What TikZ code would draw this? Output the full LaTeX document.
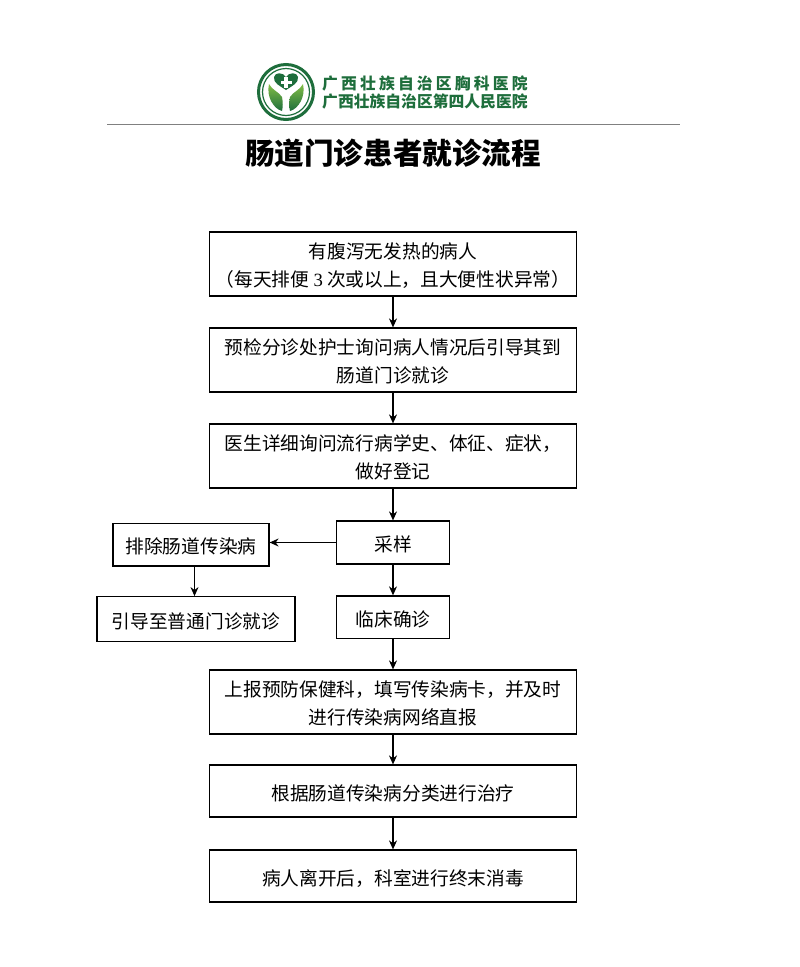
\documentclass[tikz,border=0pt]{standalone}
\usepackage{fontspec}
\setmainfont{Liberation Serif}
\newfontfamily\cjk{Noto Sans CJK SC}
\newfontfamily\cjkwide[LetterSpace=20]{Noto Sans CJK SC}
\usepackage{tikz}
\usetikzlibrary{arrows.meta}
\definecolor{logogreen}{RGB}{30,110,60}
\definecolor{leaflight}{RGB}{130,190,70}
\tikzset{
  flowbox/.style={draw,line width=1.2pt,anchor=center,font=\cjk\fontsize{18.7}{27.5}\selectfont,align=center,text height=21pt,text depth=3pt},
  flowtwo/.style={flowbox,minimum width=367,minimum height=64,text height=48pt,text depth=4pt},
  flowline/.style={line width=1.2pt,-{Stealth[length=9pt,width=8pt]}},
  hospname/.style={text=logogreen,anchor=west,inner sep=0pt},
}
\begin{document}
\begin{tikzpicture}[x=1pt,y=1pt,yscale=-1]
\useasboundingbox (0,0) rectangle (800,967);
\fill[white] (0,0) rectangle (800,967);
%logo
\begin{scope}[shift={(286,92)}]
\draw[logogreen,line width=3pt] (0,0) circle (27.5);
\draw[logogreen,line width=1.2pt] (0,0) circle (23.5);
\fill[logogreen] (0,-2) .. controls (-6,-6) and (-13,-9) .. (-12,-15) .. controls (-11,-20) and (-3,-20) .. (0,-15) .. controls (3,-20) and (11,-20) .. (12,-15) .. controls (13,-9) and (6,-6) .. (0,-2) -- cycle;
\fill[white] (-1.7,-15) rectangle (1.7,-4);
\fill[white] (-5.5,-11.2) rectangle (5.5,-7.8);
\shade[top color=leaflight,bottom color=logogreen] (-17,-8) .. controls (-14,-2) and (-7,0) .. (-4,5) .. controls (-3,10) and (-3,15) .. (-4,19) .. controls (-12,17) and (-20,5) .. (-17,-8) -- cycle;
\shade[top color=leaflight,bottom color=logogreen] (17,-8) .. controls (14,-2) and (7,0) .. (4,5) .. controls (3,10) and (3,15) .. (4,19) .. controls (12,17) and (20,5) .. (17,-8) -- cycle;
\end{scope}
\node (hospa) at (322,84) [hospname,font=\cjkwide\bfseries\fontsize{15.8}{18}\selectfont] {广西壮族自治区胸科医院};
\node (hospb) at (322,102) [hospname,font=\cjk\bfseries\fontsize{15.8}{18}\selectfont] {广西壮族自治区第四人民医院};
\draw[gray,line width=1pt] (107,124) -- (680,124);
\node (title) at (393,153) [font=\cjk\bfseries\fontsize{29.6}{34}\selectfont,inner sep=0pt] {肠道门诊患者就诊流程};
%boxes
\node (patient) at (393,264) [flowtwo] {有腹泻无发热的病人\\（每天排便 {\rmfamily 3} 次或以上，且大便性状异常）};
\node (triage) at (393,360) [flowtwo] {预检分诊处护士询问病人情况后引导其到\\肠道门诊就诊};
\node (doctor) at (393,456) [flowtwo] {医生详细询问流行病学史、体征、症状，\\做好登记};
\node (sample) at (393,542.5) [flowbox,minimum width=113,minimum height=43] {采样};
\node (exclude) at (191,544.7) [flowbox,minimum width=156,minimum height=42.5] {排除肠道传染病};
\node (general) at (196,619.2) [flowbox,minimum width=198,minimum height=45] {引导至普通门诊就诊};
\node (clinical) at (393,617.2) [flowbox,minimum width=113,minimum height=42.5] {临床确诊};
\node (report) at (393,702) [flowtwo] {上报预防保健科，填写传染病卡，并及时\\进行传染病网络直报};
\node (treat) at (393,791) [flowbox,minimum width=367,minimum height=52] {根据肠道传染病分类进行治疗};
\node (leave) at (393,876) [flowbox,minimum width=367,minimum height=52] {病人离开后，科室进行终末消毒};
\coordinate (guide) at (194.5,580);
%arrows
\draw[flowline] (patient) -- (triage);
\draw[flowline] (triage) -- (doctor);
\draw[flowline] (doctor) -- (sample);
\draw[flowline] (sample) -- (clinical);
\draw[flowline] (sample.west) -- (sample.west -| exclude.east);
\draw[flowline] (guide |- exclude.south) -- (guide |- general.north);
\draw[flowline] (clinical) -- (report);
\draw[flowline] (report) -- (treat);
\draw[flowline] (treat) -- (leave);
\end{tikzpicture}
\end{document}
